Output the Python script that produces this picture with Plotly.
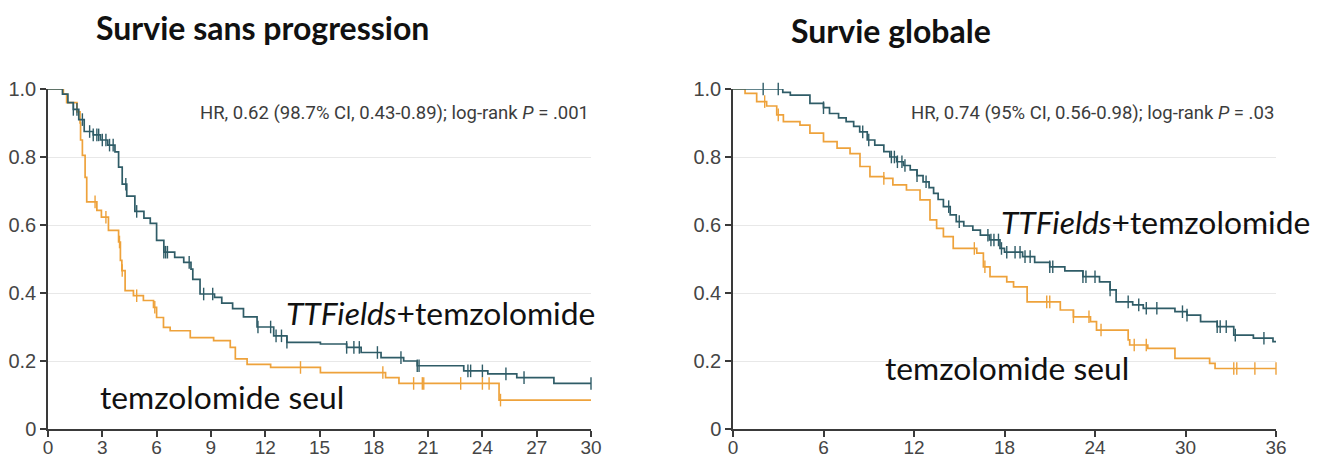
import numpy as np
import plotly.graph_objects as go

# ---------------- DATA ----------------
# Progression-free survival (left panel), months
pfs_ttf_t = [0, 0.8, 1.1, 1.4, 1.7, 2.0, 2.5, 2.9, 3.3, 3.7, 3.9, 4.1, 4.35, 4.8, 5.3, 5.65, 6.0, 6.4, 7.0, 7.5,
             7.9, 8.0, 8.4, 9.2, 9.6, 10.2, 10.8, 11.55, 12.47, 13.2, 15.05, 16.5, 17.3, 18.4, 19.65, 20.4,
             22.97, 24.3, 25.9, 27.95, 30.0]
pfs_ttf_s = [1.0, 0.985, 0.96, 0.94, 0.91, 0.875, 0.865, 0.85, 0.835, 0.815, 0.77, 0.72, 0.685, 0.64, 0.62, 0.605,
             0.555, 0.52, 0.505, 0.49, 0.47, 0.44, 0.397, 0.387, 0.37, 0.354, 0.33, 0.30, 0.274, 0.255, 0.25,
             0.24, 0.225, 0.21, 0.20, 0.186, 0.171, 0.162, 0.151, 0.134, 0.134]
pfs_ttf_cens = [1.4, 1.6, 1.9, 2.3, 2.5, 2.7, 2.8, 3.0, 3.2, 3.4, 3.6, 4.3, 4.9, 6.4, 6.5, 6.6, 7.8, 8.6, 9.1,
                11.6, 12.3, 12.6, 12.9, 13.2, 16.5, 16.9, 17.2, 18.2, 19.5, 20.4, 20.5, 23.2, 23.35, 24.0,
                25.3, 26.3, 30.0]

pfs_tmz_t = [0, 0.85, 1.03, 1.6, 1.77, 1.8, 1.9, 2.05, 2.14, 2.7, 2.95, 3.34, 3.9, 4.0, 4.08, 4.26, 4.72, 5.27,
             5.83, 6.0, 6.38, 6.75, 7.86, 9.15, 10.07, 10.35, 11.0, 12.3, 15.05, 18.65, 19.39, 24.92, 30.0]
pfs_tmz_s = [1.0, 0.985, 0.96, 0.933, 0.90, 0.85, 0.805, 0.74, 0.668, 0.643, 0.623, 0.584, 0.55, 0.496, 0.466,
             0.407, 0.392, 0.378, 0.358, 0.328, 0.299, 0.289, 0.269, 0.26, 0.24, 0.206, 0.19, 0.181, 0.166,
             0.151, 0.134, 0.085, 0.085]
pfs_tmz_cens = [2.6, 3.2, 3.95, 4.1, 4.9, 5.9, 13.95, 18.5, 20.2, 20.68, 20.76, 22.8, 24.0, 24.37, 25.0]

# Overall survival (right panel), months
os_ttf_t = [0, 3.3, 3.8, 5.1, 6.0, 6.4, 7.0, 7.5, 8.0, 8.4, 8.9, 9.4, 10.0, 10.4, 10.85, 11.3, 11.75, 12.2, 12.6,
            13.0, 13.3, 13.6, 13.95, 14.4, 14.8, 15.3, 15.9, 16.4, 17.0, 17.7, 18.0, 19.2, 20.0, 21.0, 22.0,
            23.2, 24.3, 25.0, 25.4, 26.5, 27.2, 29.3, 30.1, 31.0, 32.1, 33.2, 34.5, 35.8, 36.0]
os_ttf_s = [1.0, 0.99, 0.982, 0.958, 0.945, 0.928, 0.915, 0.904, 0.89, 0.874, 0.85, 0.835, 0.816, 0.80, 0.786,
            0.775, 0.762, 0.745, 0.727, 0.71, 0.693, 0.675, 0.654, 0.63, 0.61, 0.597, 0.585, 0.57, 0.556, 0.531,
            0.52, 0.507, 0.49, 0.477, 0.465, 0.448, 0.433, 0.409, 0.374, 0.365, 0.355, 0.345, 0.335, 0.316,
            0.301, 0.276, 0.267, 0.257, 0.257]
os_ttf_cens = [2.0, 3.0, 6.0, 8.6, 9.0, 10.5, 10.7, 10.9, 11.2, 11.4, 12.2, 12.8, 14.3, 15.0, 16.9, 17.1, 17.3,
               17.6, 17.8, 18.15, 18.7, 19.03, 19.36, 19.7, 21.0, 21.2, 23.2, 23.4, 24.0, 25.0, 26.2, 26.9,
               27.4, 28.1, 29.8, 30.1, 32.1, 32.3, 32.7, 33.3, 35.2]

os_tmz_t = [0, 0.8, 1.57, 2.23, 2.9, 3.34, 4.44, 5.1, 6.0, 6.9, 7.76, 8.42, 9.08, 10.0, 10.6, 11.5, 12.4, 13.06,
            13.5, 13.95, 14.6, 16.16, 16.6, 17.04, 18.15, 18.6, 19.5, 21.7, 22.57, 23.7, 24.1, 26.2, 26.3, 27.5,
            29.3, 31.6, 31.96, 36.0]
os_tmz_s = [1.0, 0.987, 0.963, 0.95, 0.924, 0.904, 0.894, 0.87, 0.845, 0.826, 0.81, 0.772, 0.742, 0.737, 0.718,
            0.703, 0.674, 0.615, 0.59, 0.566, 0.531, 0.517, 0.477, 0.448, 0.433, 0.418, 0.374, 0.35, 0.33,
            0.316, 0.291, 0.262, 0.247, 0.237, 0.208, 0.193, 0.178, 0.178]
os_tmz_cens = [2.1, 3.0, 10.0, 16.0, 16.7, 20.8, 21.0, 22.57, 23.6, 24.4, 26.6, 27.4, 33.2, 33.4, 34.6, 36.0]

pfs_xticks = [0, 3, 6, 9, 12, 15, 18, 21, 24, 27, 30]
os_xticks = [0, 6, 12, 18, 24, 30, 36]
y_ticks = [0, 0.2, 0.4, 0.6, 0.8, 1.0]
y_ticktext = ["0", "0.2", "0.4", "0.6", "0.8", "1.0"]

titles = ["Survie sans progression", "Survie globale"]
hr_texts = ["HR, 0.62 (98.7% CI, 0.43-0.89); log-rank <i>P</i> = .001",
            "HR, 0.74 (95% CI, 0.56-0.98); log-rank <i>P</i> = .03"]
lab_ttf = "<i>TTFields</i>+temzolomide"
lab_tmz = "temzolomide seul"

# ---------------- STYLE ----------------
C_TTF = "#2f5c67"
C_TMZ = "#eea23b"
AX = "#3a3a3a"
TICKF_Y = dict(family="Liberation Sans Narrow, Arial Narrow, sans-serif", size=20, color="#454545")
TICKF_X = dict(family="Liberation Sans Narrow, Arial Narrow, sans-serif", size=19, color="#454545")

W, H = 1324, 457


def surv_at(times, t, s):
    t = np.asarray(t); s = np.asarray(s)
    idx = np.searchsorted(t, np.asarray(times), side="right") - 1
    return s[idx]


fig = go.Figure()


def add_panel(xa, ya, t1, s1, c1, t2, s2, c2):
    for t, s, c, col in [(t2, s2, c2, C_TMZ), (t1, s1, c1, C_TTF)]:
        fig.add_trace(go.Scatter(x=t, y=s, mode="lines", line=dict(color=col, width=1.7, shape="hv"),
                                 xaxis=xa, yaxis=ya, showlegend=False, cliponaxis=False, hoverinfo="skip"))
        fig.add_trace(go.Scatter(x=c, y=surv_at(c, t, s), mode="markers",
                                 marker=dict(symbol="line-ns", size=9, line=dict(color=col, width=1.4)),
                                 xaxis=xa, yaxis=ya, showlegend=False, cliponaxis=False, hoverinfo="skip"))


add_panel("x", "y", pfs_ttf_t, pfs_ttf_s, pfs_ttf_cens, pfs_tmz_t, pfs_tmz_s, pfs_tmz_cens)
add_panel("x2", "y2", os_ttf_t, os_ttf_s, os_ttf_cens, os_tmz_t, os_tmz_s, os_tmz_cens)

y_dom = [(H - 429) / H, (H - 89) / H]
common_x = dict(showgrid=False, zeroline=False, showline=True, linecolor=AX, linewidth=1.5,
                ticks="outside", ticklen=6, tickwidth=1.5, tickcolor=AX, tickfont=TICKF_X, automargin=False,
                ticklabelstandoff=-6)
common_y = dict(showgrid=True, gridcolor="#e8e8e8", gridwidth=1.2, zeroline=False, showline=True, linecolor=AX,
                linewidth=1.5, ticks="outside", ticklen=6, tickwidth=1.5, tickcolor=AX, tickfont=TICKF_Y,
                range=[0, 1.0], tickvals=y_ticks, ticktext=y_ticktext, automargin=False)

fig.update_layout(
    width=W, height=H, margin=dict(l=0, r=0, t=0, b=0),
    paper_bgcolor="white", plot_bgcolor="white",
    xaxis=dict(domain=[48 / W, 591 / W], range=[0, 30], tickvals=pfs_xticks, anchor="y", **common_x),
    yaxis=dict(domain=y_dom, anchor="x", **common_y),
    xaxis2=dict(domain=[733 / W, 1276 / W], range=[0, 36], tickvals=os_xticks, anchor="y2", **common_x),
    yaxis2=dict(domain=y_dom, anchor="x2", **common_y),
)

TFONT = dict(family="Lato, Open Sans, sans-serif", size=32, color="#111111")
LFONT = dict(family="Lato, Open Sans, sans-serif", size=31.8, color="#111111")
HFONT = dict(family="Liberation Sans Narrow, Arial Narrow, Roboto, sans-serif", size=18.5, color="#3c3c3c")


def pxx(v):
    return v / W


def pyy(v):
    return 1 - v / H


anns = [
    dict(text="<b>" + titles[0] + "</b>", x=pxx(262), y=pyy(28), xref="paper", yref="paper", font=TFONT),
    dict(text="<b>" + titles[1] + "</b>", x=pxx(891), y=pyy(30), xref="paper", yref="paper", font=TFONT),
    dict(text=hr_texts[0], x=30, y=0.93, xref="x", yref="y", xanchor="right", font=HFONT),
    dict(text=hr_texts[1], x=36, y=0.93, xref="x2", yref="y2", xanchor="right", font=HFONT),
    dict(text=lab_ttf, x=pxx(441), y=pyy(313), xref="paper", yref="paper", font=LFONT),
    dict(text=lab_tmz, x=pxx(222), y=pyy(397), xref="paper", yref="paper", font=LFONT),
    dict(text=lab_ttf, x=pxx(1155), y=pyy(222), xref="paper", yref="paper", font=LFONT),
    dict(text=lab_tmz, x=pxx(1007), y=pyy(368), xref="paper", yref="paper", font=LFONT),
]
for a in anns:
    a.update(showarrow=False, xanchor=a.get("xanchor", "center"), yanchor="middle")
    fig.add_annotation(**a)

# remove the browser's default 8px body margin so the 1324x457 figure fills the window exactly
fig.write_html("out.html", config={"displayModeBar": False},
               post_script="document.body.style.margin='0px';document.body.style.overflow='hidden';")
